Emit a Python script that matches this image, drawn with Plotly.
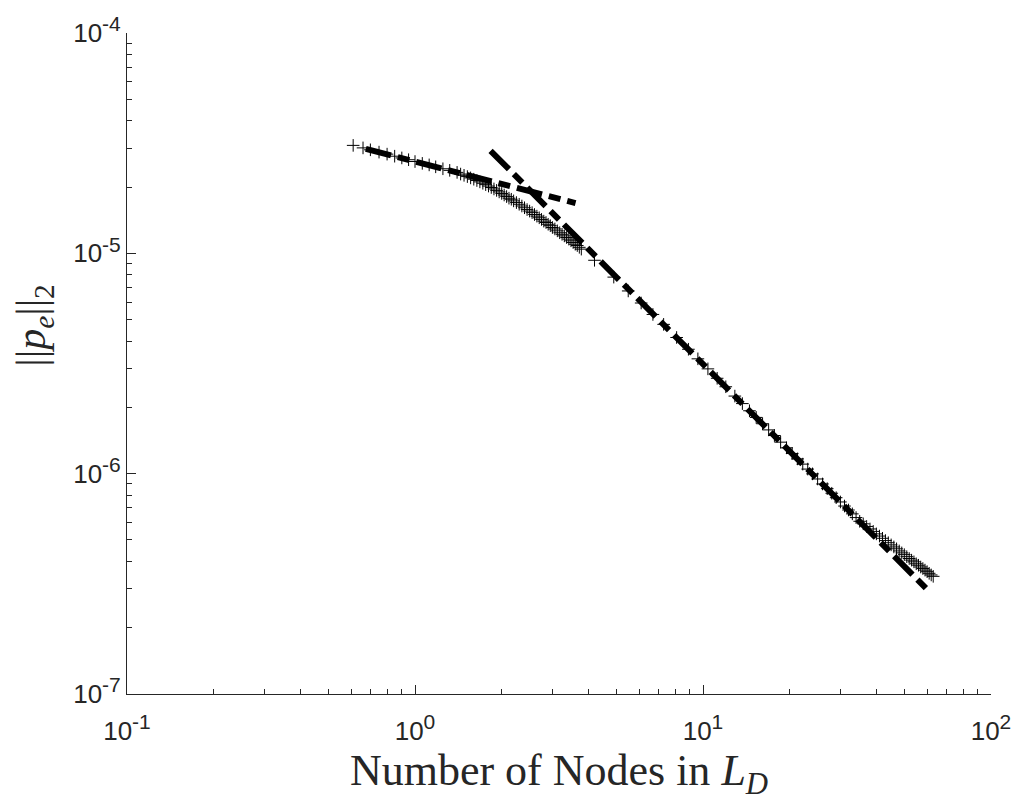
import plotly.graph_objects as go

# ---- data ----
node_x = [0.61, 0.66, 0.70, 0.75, 0.80, 0.85, 0.90, 0.95, 1.00, 1.06, 1.12, 1.18, 1.25, 1.32,
          1.40, 1.44, 1.48, 1.52, 1.56, 1.60, 1.64, 1.68, 1.72, 1.76, 1.80, 1.84, 1.88, 1.92,
          1.96, 2.00, 2.04, 2.08, 2.12, 2.16, 2.20, 2.25, 2.30, 2.35, 2.40, 2.45, 2.50, 2.55,
          2.60, 2.65, 2.70, 2.75, 2.80, 2.85, 2.90, 2.95, 3.00, 3.06, 3.12, 3.18, 3.24, 3.30,
          3.36, 3.42, 3.48, 3.54, 3.60, 3.66, 3.72, 3.78,
          4.2, 4.9, 5.5, 6.1, 6.7, 7.3, 8.1, 8.9, 9.6, 10.4, 11.2, 12.0, 12.9, 13.7, 14.5,
          15.3, 16.1, 16.9, 17.7, 18.6, 19.5, 20.4, 21.3, 22.2, 23.1, 24, 25, 26, 27, 28, 29,
          30, 31, 32, 33, 34, 35, 36, 37, 38, 39, 40, 41, 42, 43, 44, 45, 46, 47, 48, 49, 50,
          51, 52, 53, 54, 55, 56, 57, 58, 59, 60, 61, 62, 63]
node_err = [3.09e-5, 3.01e-5, 2.95e-5, 2.88e-5, 2.82e-5, 2.76e-5, 2.71e-5, 2.66e-5, 2.61e-5,
            2.56e-5, 2.52e-5, 2.47e-5, 2.42e-5, 2.38e-5,
            2.33e-5, 2.29e-5, 2.26e-5, 2.23e-5, 2.20e-5, 2.17e-5, 2.14e-5, 2.11e-5, 2.08e-5,
            2.05e-5, 2.02e-5, 1.99e-5, 1.96e-5, 1.93e-5, 1.90e-5, 1.87e-5, 1.84e-5, 1.81e-5,
            1.78e-5, 1.76e-5, 1.73e-5, 1.70e-5, 1.67e-5, 1.64e-5, 1.61e-5, 1.58e-5, 1.555e-5,
            1.53e-5, 1.50e-5, 1.475e-5, 1.45e-5, 1.425e-5, 1.40e-5, 1.38e-5, 1.355e-5,
            1.335e-5, 1.31e-5, 1.29e-5, 1.265e-5, 1.24e-5, 1.22e-5, 1.20e-5, 1.18e-5,
            1.16e-5, 1.14e-5, 1.12e-5, 1.10e-5, 1.085e-5, 1.065e-5, 1.045e-5,
            9.3e-6, 7.8e-6, 6.75e-6, 5.95e-6, 5.28e-6, 4.76e-6, 4.15e-6, 3.67e-6, 3.32e-6,
            2.99e-6, 2.71e-6, 2.48e-6, 2.25e-6, 2.08e-6, 1.93e-6, 1.80e-6, 1.685e-6, 1.58e-6,
            1.49e-6, 1.39e-6, 1.31e-6, 1.235e-6, 1.167e-6, 1.105e-6, 1.049e-6, 9.98e-7,
            9.46e-7, 8.98e-7, 8.55e-7, 8.15e-7, 7.78e-7, 7.44e-7, 7.13e-7, 6.84e-7, 6.57e-7,
            6.32e-7, 6.08e-7, 5.92e-7, 5.76e-7, 5.61e-7, 5.47e-7, 5.33e-7, 5.21e-7, 5.09e-7,
            4.97e-7, 4.86e-7, 4.75e-7, 4.65e-7, 4.56e-7, 4.46e-7, 4.37e-7, 4.29e-7, 4.20e-7,
            4.12e-7, 4.05e-7, 3.98e-7, 3.90e-7, 3.84e-7, 3.77e-7, 3.71e-7, 3.65e-7, 3.59e-7,
            3.53e-7, 3.47e-7, 3.42e-7]

fit_small_x = [0.675, 3.61]
fit_small_y = [2.98e-5, 1.69e-5]
fit_large_x = [1.83, 60.1]
fit_large_y = [2.92e-5, 2.98e-7]

x_tick_vals = [0.1, 1, 10, 100]
x_tick_exp = ["-1", "0", "1", "2"]
y_tick_vals = [1e-7, 1e-6, 1e-5, 1e-4]
y_tick_exp = ["-7", "-6", "-5", "-4"]


def pow_label(e):
    return '10<sup><span style="font-size:21px">' + e + '</span></sup>'


x_tick_text = [pow_label(e) for e in x_tick_exp]
y_tick_text = [pow_label(e) for e in y_tick_exp]

x_minor = [m * d for d in (0.1, 1, 10) for m in range(2, 10)]
y_minor = [m * d for d in (1e-7, 1e-6, 1e-5) for m in range(2, 10)]

AX = "#262626"
DASH = "26px,7px,12px,7px"

fig = go.Figure()
fig.add_trace(go.Scatter(
    x=node_x, y=node_err, mode="markers",
    marker=dict(symbol="cross-thin-open", size=9, color="black",
                line=dict(color="black", width=1)),
    showlegend=False, hoverinfo="skip"))
fig.add_trace(go.Scatter(
    x=fit_small_x, y=fit_small_y, mode="lines",
    line=dict(color="black", width=6, dash=DASH), showlegend=False))
fig.add_trace(go.Scatter(
    x=fit_large_x, y=fit_large_y, mode="lines",
    line=dict(color="black", width=6, dash=DASH), showlegend=False))

tickfont = dict(family="Liberation Sans, Arial, sans-serif", size=26, color=AX)

fig.update_xaxes(
    type="log", range=[-1, 2], showgrid=False, zeroline=False,
    showline=True, linecolor=AX, linewidth=1,
    ticks="inside", ticklen=9, tickcolor=AX, tickwidth=1,
    tickvals=x_tick_vals, ticktext=x_tick_text, tickfont=tickfont,
    ticklabelstandoff=14,
    minor=dict(ticks="inside", ticklen=5, tickcolor=AX, tickwidth=1,
               tickvals=x_minor, showgrid=False),
    title=dict(text="Number of Nodes in <i>L</i><sub><i>D</i></sub>",
               font=dict(family="Liberation Serif, DejaVu Serif, serif", size=44,
                         color=AX), standoff=4),
)
fig.update_yaxes(
    type="log", range=[-7, -4], showgrid=False, zeroline=False,
    showline=True, linecolor=AX, linewidth=1,
    ticks="inside", ticklen=9, tickcolor=AX, tickwidth=1,
    tickvals=y_tick_vals, ticktext=y_tick_text, tickfont=tickfont,
    minor=dict(ticks="inside", ticklen=5, tickcolor=AX, tickwidth=1,
               tickvals=y_minor, showgrid=False),
)

fig.add_annotation(
    text="||<i>p</i><sub><i>e</i></sub>||<sub>2</sub>",
    xref="paper", yref="paper", x=-0.108, y=0.5 + 38 / 669,
    xanchor="center", yanchor="middle", textangle=-90, showarrow=False,
    font=dict(family="Liberation Serif, DejaVu Serif, serif", size=42, color=AX))

fig.update_layout(
    width=1023, height=803,
    margin=dict(l=127, r=27, t=25, b=109),
    paper_bgcolor="white", plot_bgcolor="white",
)

fig.write_html("out.html")
